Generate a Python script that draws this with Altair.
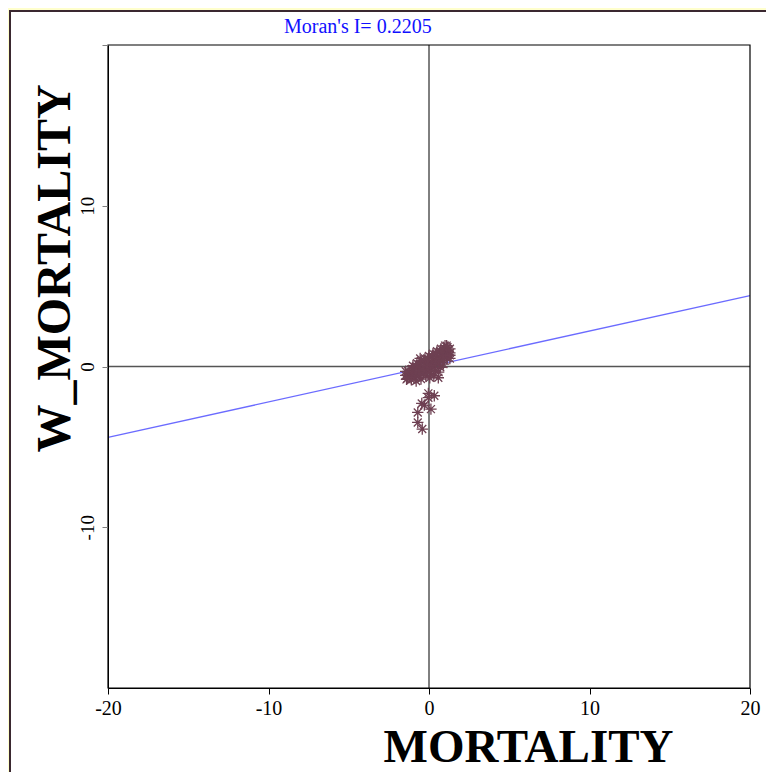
import altair as alt
import pandas as pd

# ---- data ----
mortality = [
    -1.45, -1.2, -0.95, -0.7, -0.45, -0.2, 0.05, 0.3, 0.55, 0.8, 1.0, 1.2,
    -1.3, -1.05, -0.8, -0.55, -0.3, -0.05, 0.2, 0.45, 0.7, 0.95, 1.15,
    -1.35, -1.1, -0.85, -0.6, -0.35, -0.1, 0.15, 0.4, 0.65, 0.9, 1.15, 1.3,
    -1.1, -0.85, -0.6, -0.35, -0.1, 0.15, 0.4, 0.65, 0.9, 1.15,
    -1.0, -0.75, -0.5, -0.25, 0.0, 0.25, 0.5, 0.75, 1.0,
    -0.8, -0.5, -0.2, 0.1, 0.4, 0.7,
    0.05, 0.3, 0.6, -0.55, 1.3, 1.3, 1.3, 1.1, -1.45, -1.4, 0.58, 0.9,
    0.33, -0.04, -0.45, 0.12, -0.70, -0.70, -0.42, -0.04, -0.29,
]
w_mortality = [
    -0.55, -0.42, -0.28, -0.12, 0.02, 0.18, 0.32, 0.47, 0.62, 0.78, 0.9, 1.02,
    -0.3, -0.15, 0.0, 0.15, 0.32, 0.47, 0.62, 0.78, 0.95, 1.12, 1.2,
    -0.75, -0.62, -0.48, -0.33, -0.18, -0.03, 0.12, 0.28, 0.43, 0.6, 0.75, 0.85,
    -0.82, -0.7, -0.55, -0.4, -0.25, -0.1, 0.05, 0.22, 0.38, 0.52,
    0.05, 0.2, 0.35, 0.5, 0.65, 0.8, 0.95, 1.1, 1.3,
    -0.9, -0.78, -0.6, -0.42, -0.25, -0.05,
    -0.7, -0.55, -0.35, 0.5, 0.5, 0.7, 1.1, 1.3, -0.3, -0.8, -0.7, 0.15,
    -1.82, -1.94, -2.30, -2.65, -2.86, -3.48, -3.89, -1.67, -2.40,
]
fit_x = [-20, 20]
fit_y = [-4.41, 4.41]          # Moran's I slope 0.2205
title_text = "Moran's I= 0.2205"
x_ticks = [-20, -10, 0, 10, 20]
y_ticks = [-10, 0, 10, 20]

SERIF = "Liberation Serif"
W, H = 642, 643

pts = pd.DataFrame({"MORTALITY": mortality, "W_MORTALITY": w_mortality})
fit = pd.DataFrame({"MORTALITY": fit_x, "W_MORTALITY": fit_y})
zero = pd.DataFrame({"v": [0]})
one = pd.DataFrame({"t": [title_text]})

xs = alt.Scale(domain=[-20, 20], nice=False, zero=False)
ys = alt.Scale(domain=[-20, 20], nice=False, zero=False)

x_axis = alt.Axis(
    values=x_ticks, title="MORTALITY", grid=False, zindex=1,
    labelExpr="'' + datum.value",
    domainColor="black", tickColor="black", tickSize=6,
    labelFont=SERIF, labelFontSize=20, labelColor="black",
    labelBaseline="alphabetic", labelPadding=20, labelFlush=False,
    titleFont=SERIF, titleFontSize=47, titleFontWeight="bold", titleColor="black",
    titleX=420, titleY=73, titleAlign="center", titleBaseline="alphabetic",
)
y_axis = alt.Axis(
    values=y_ticks, title="W_MORTALITY", grid=False, zindex=1,
    labelExpr="datum.value == 20 ? '' : '' + datum.value",
    domainColor="black", tickColor="#808080", tickSize=6,
    labelFont=SERIF, labelFontSize=19, labelColor="black", labelAngle=-90,
    labelAlign="center", labelBaseline="alphabetic", labelPadding=9, labelFlush=False,
    titleFont=SERIF, titleFontSize=48, titleFontWeight="bold", titleColor="black",
    titleAngle=270, titleX=-39, titleY=223, titleAlign="center", titleBaseline="alphabetic",
)

# white panel on the yellow page
panel = alt.Chart(one).mark_rect(
    fill="white", stroke="#3a2830", strokeWidth=2, clip=False
).encode(
    x=alt.value(-98), x2=alt.value(700), y=alt.value(-34), y2=alt.value(800)
)

frame = alt.Chart(one).mark_rect(
    filled=False, stroke="black", strokeWidth=1.2
).encode(
    x=alt.value(0), x2=alt.value(W), y=alt.value(0), y2=alt.value(H)
)

hline = alt.Chart(zero).mark_rule(color="#555555", strokeWidth=1.5).encode(
    y=alt.Y("v:Q", scale=ys)
)
vline = alt.Chart(zero).mark_rule(color="black", strokeWidth=1).encode(
    x=alt.X("v:Q", scale=xs)
)

fit_line = alt.Chart(fit).mark_line(color="#6b6bff", strokeWidth=1.4).encode(
    x=alt.X("MORTALITY:Q", scale=xs, axis=x_axis),
    y=alt.Y("W_MORTALITY:Q", scale=ys, axis=y_axis),
)

asterisk = "M-1,0L1,0M0,-1L0,1M-0.7,-0.7L0.7,0.7M-0.7,0.7L0.7,-0.7"
points = alt.Chart(pts).mark_point(
    shape=asterisk, filled=False, stroke="#6e4052", strokeWidth=1.3, size=130, opacity=1
).encode(
    x=alt.X("MORTALITY:Q", scale=xs),
    y=alt.Y("W_MORTALITY:Q", scale=ys),
)

title = alt.Chart(one).mark_text(
    font=SERIF, fontSize=20, color="#1010ff", align="left", baseline="alphabetic"
).encode(text="t:N", x=alt.value(176), y=alt.value(-12))

chart = alt.layer(
    panel, hline, vline, fit_line, points, frame, title
).properties(
    width=W, height=H,
    autosize=alt.AutoSizeParams(type="none"),
    padding={"left": 100, "top": 37, "right": 16, "bottom": 84},
    background="#FFFFCC",
).configure_view(stroke=None)

chart.save("out.html", embed_options={"renderer": "svg", "actions": False})
